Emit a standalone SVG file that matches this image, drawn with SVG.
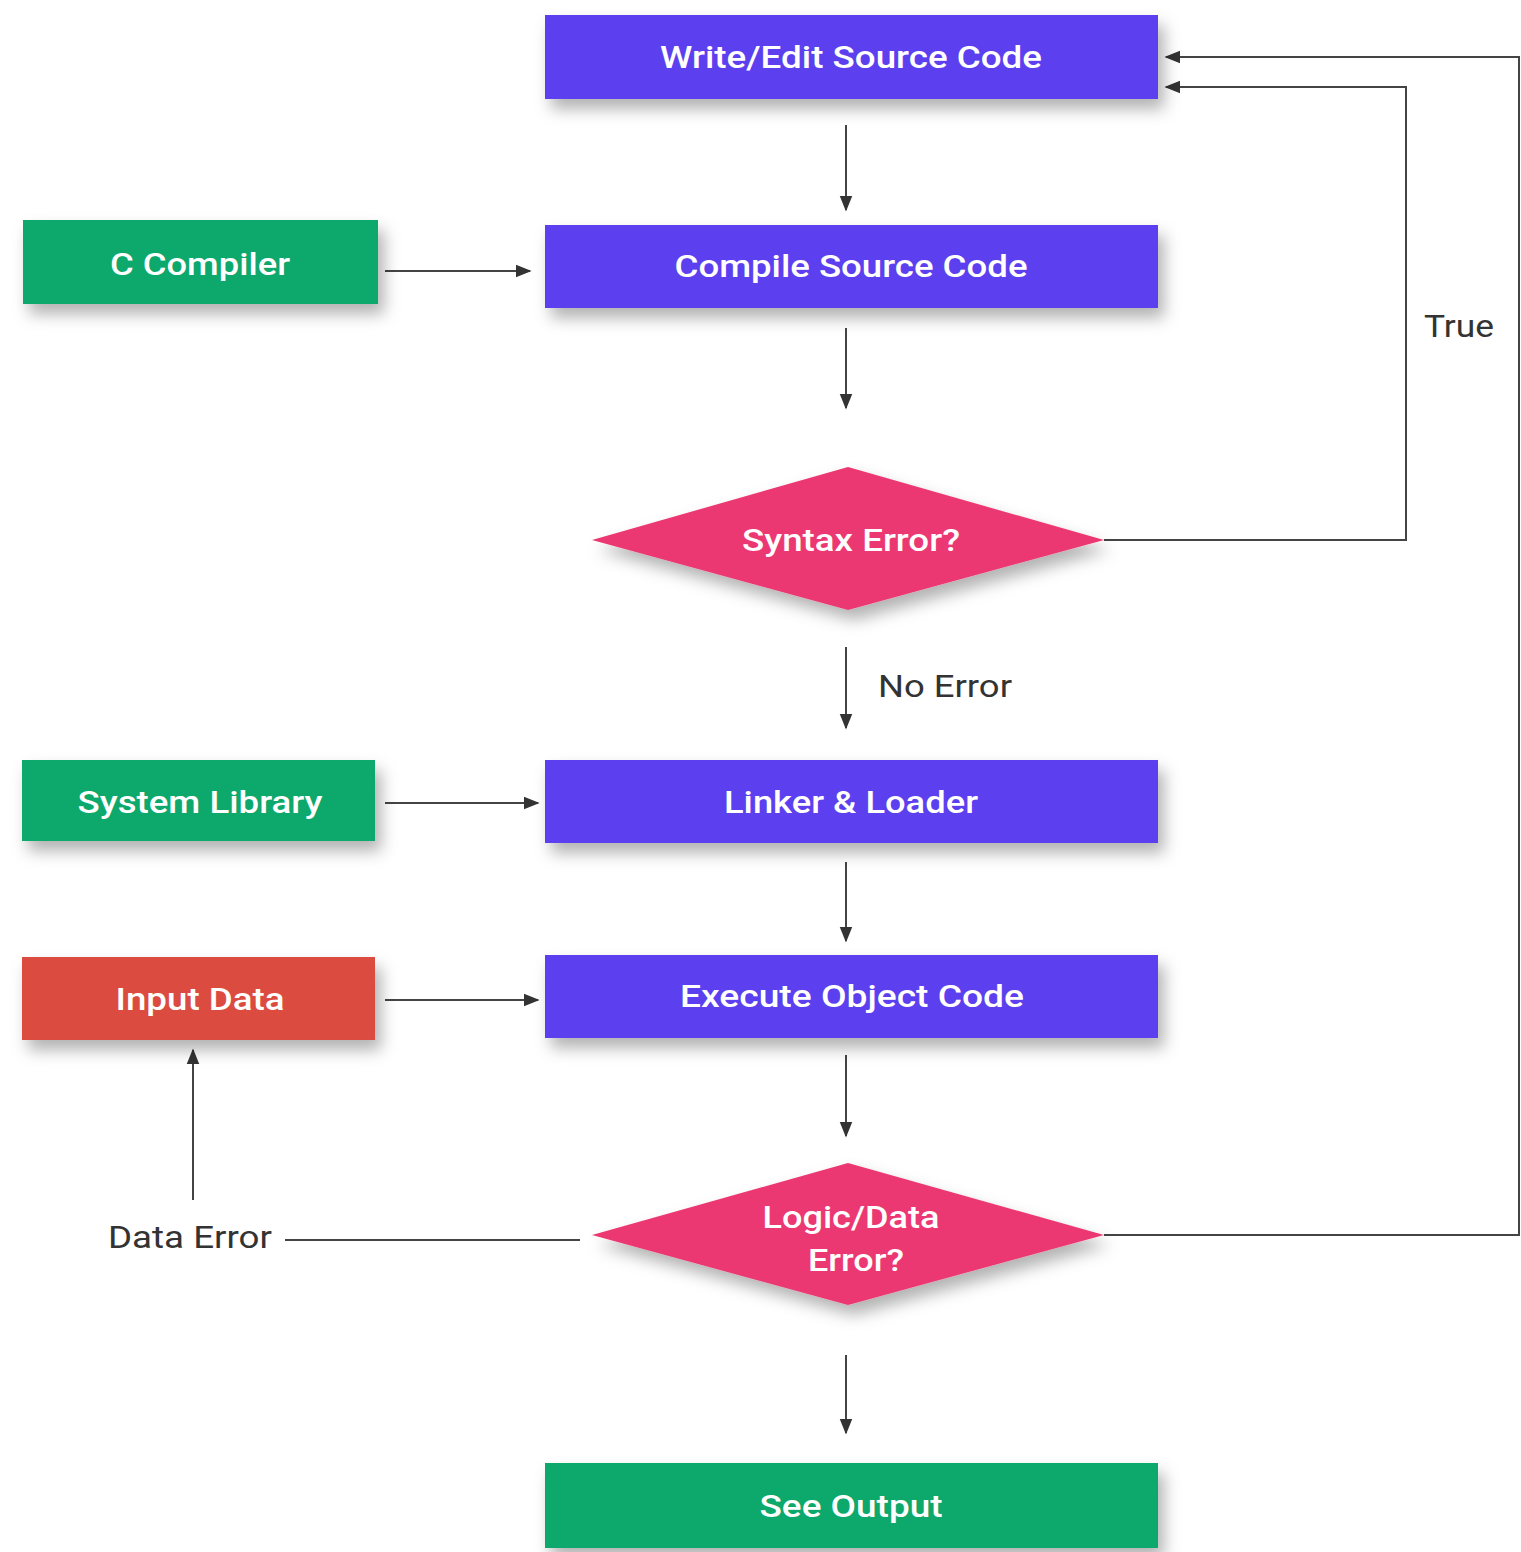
<svg xmlns="http://www.w3.org/2000/svg" width="1521" height="1552" viewBox="0 0 1521 1552">
<style>
.lbl{font-family:Roboto,"Liberation Sans",sans-serif;font-size:31px;font-weight:500;fill:#ffffff;text-anchor:middle;dominant-baseline:central}
.elbl{font-family:Roboto,"Liberation Sans",sans-serif;font-size:31px;fill:#333333;dominant-baseline:central}
.purple{fill:#5b40f0}
.green{fill:#07a86c}
.red{fill:#dc4c3f}
.pink{fill:#ec3872}
.edge{fill:none;stroke:#444444;stroke-width:2}
</style>
<defs>
<filter id="sh" x="-10%" y="-30%" width="125%" height="180%">
<feDropShadow dx="6" dy="10" stdDeviation="8" flood-color="#000000" flood-opacity="0.3"/>
</filter>
<marker id="arrB" viewBox="0 0 10 10" refX="9" refY="5" markerWidth="16" markerHeight="16" markerUnits="userSpaceOnUse" orient="auto">
<path d="M0,1 L10,5 L0,9 z" fill="#333333"/>
</marker>
</defs>
<rect width="1521" height="1552" fill="#ffffff"/>
<g id="connectors">
<path class="edge" d="M846,125 V210" marker-end="url(#arrB)"/>
<path class="edge" d="M385,271 H530" marker-end="url(#arrB)"/>
<path class="edge" d="M846,328 V408" marker-end="url(#arrB)"/>
<path class="edge" d="M1104,540 H1406 V87 H1166" marker-end="url(#arrB)"/>
<path class="edge" d="M846,647 V728" marker-end="url(#arrB)"/>
<path class="edge" d="M385,803 H538" marker-end="url(#arrB)"/>
<path class="edge" d="M846,862 V941" marker-end="url(#arrB)"/>
<path class="edge" d="M385,1000 H538" marker-end="url(#arrB)"/>
<path class="edge" d="M846,1055 V1136" marker-end="url(#arrB)"/>
<path class="edge" d="M1104,1235 H1519 V57 H1166" marker-end="url(#arrB)"/>
<path class="edge" d="M580,1240 H285"/>
<path class="edge" d="M193,1200 V1050" marker-end="url(#arrB)"/>
<path class="edge" d="M846,1355 V1433" marker-end="url(#arrB)"/>
<text class="elbl" x="1424" y="326" textLength="70" lengthAdjust="spacingAndGlyphs">True</text>
<text class="elbl" x="878" y="686" textLength="134" lengthAdjust="spacingAndGlyphs">No Error</text>
<text class="elbl" x="108" y="1237" textLength="164" lengthAdjust="spacingAndGlyphs">Data Error</text>
</g>
<g id="write">
<rect class="purple" x="545" y="15" width="613" height="84" filter="url(#sh)"/>
<text class="lbl" x="851" y="57" textLength="382" lengthAdjust="spacingAndGlyphs">Write/Edit Source Code</text>
</g>
<g id="ccompiler">
<rect class="green" x="23" y="220" width="355" height="84" filter="url(#sh)"/>
<text class="lbl" x="200" y="264" textLength="180" lengthAdjust="spacingAndGlyphs">C Compiler</text>
</g>
<g id="compile">
<rect class="purple" x="545" y="225" width="613" height="83" filter="url(#sh)"/>
<text class="lbl" x="851" y="266" textLength="353" lengthAdjust="spacingAndGlyphs">Compile Source Code</text>
</g>
<g id="syntax">
<polygon class="pink" points="848,467 1104,540 848,610 592,540" filter="url(#sh)"/>
<text class="lbl" x="851" y="540" textLength="218" lengthAdjust="spacingAndGlyphs">Syntax Error?</text>
</g>
<g id="syslib">
<rect class="green" x="22" y="760" width="353" height="81" filter="url(#sh)"/>
<text class="lbl" x="200" y="802" textLength="245" lengthAdjust="spacingAndGlyphs">System Library</text>
</g>
<g id="linker">
<rect class="purple" x="545" y="760" width="613" height="83" filter="url(#sh)"/>
<text class="lbl" x="851" y="802" textLength="254" lengthAdjust="spacingAndGlyphs">Linker &amp; Loader</text>
</g>
<g id="input">
<rect class="red" x="22" y="957" width="353" height="83" filter="url(#sh)"/>
<text class="lbl" x="200" y="999" textLength="169" lengthAdjust="spacingAndGlyphs">Input Data</text>
</g>
<g id="execute">
<rect class="purple" x="545" y="955" width="613" height="83" filter="url(#sh)"/>
<text class="lbl" x="852" y="996" textLength="344" lengthAdjust="spacingAndGlyphs">Execute Object Code</text>
</g>
<g id="logic">
<polygon class="pink" points="848,1163 1104,1235 848,1305 592,1235" filter="url(#sh)"/>
<text class="lbl" x="851" y="1217" textLength="177" lengthAdjust="spacingAndGlyphs">Logic/Data</text>
<text class="lbl" x="856" y="1260" textLength="96" lengthAdjust="spacingAndGlyphs">Error?</text>
</g>
<g id="output">
<rect class="green" x="545" y="1463" width="613" height="85" filter="url(#sh)"/>
<text class="lbl" x="851" y="1506" textLength="183" lengthAdjust="spacingAndGlyphs">See Output</text>
</g>
</svg>
